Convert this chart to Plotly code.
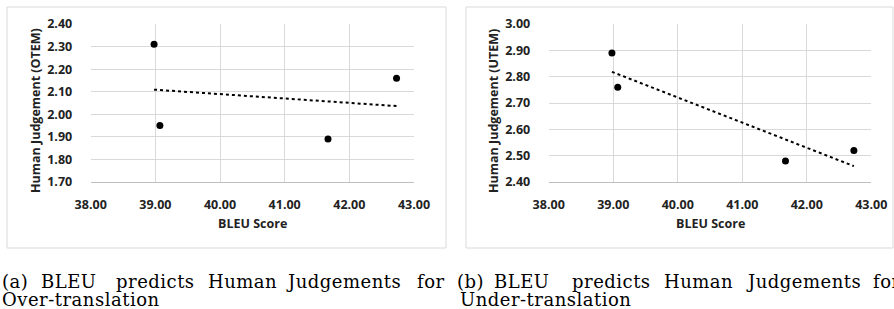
import numpy as np
import plotly.graph_objects as go

bleu = [38.98, 39.07, 41.67, 42.73]
otem = [2.31, 1.95, 1.89, 2.16]
utem = [2.89, 2.76, 2.48, 2.52]
x_ticks = [38, 39, 40, 41, 42, 43]
otem_ticks = [1.70, 1.80, 1.90, 2.00, 2.10, 2.20, 2.30, 2.40]
utem_ticks = [2.40, 2.50, 2.60, 2.70, 2.80, 2.90, 3.00]
x_title = "BLEU Score"
y_titles = ["Human Judgement (OTEM)", "Human Judgement (UTEM)"]
cap_a_words = ["(a)", "BLEU", "predicts", "Human", "Judgements", "for"]
cap_b_words = ["(b)", "BLEU", "predicts", "Human", "Judgements", "for"]
cap_a_line2 = "Over-translation"
cap_b_line2 = "Under-translation"

W, H = 894, 309
def px(x): return x / W
def py(y): return 1 - y / H

fig = go.Figure()
series = [otem, utem]
for i, ys in enumerate(series):
    xa = "x" if i == 0 else "x2"
    ya = "y" if i == 0 else "y2"
    fig.add_trace(go.Scatter(x=bleu, y=ys, mode="markers", xaxis=xa, yaxis=ya,
                             marker=dict(color="black", size=7), showlegend=False, hoverinfo="skip"))
    m, b = np.polyfit(bleu, ys, 1)
    xs = [min(bleu), max(bleu)]
    fig.add_trace(go.Scatter(x=xs, y=[m * v + b for v in xs], mode="lines", xaxis=xa, yaxis=ya,
                             line=dict(color="black", width=2, dash="dot"), showlegend=False,
                             hoverinfo="skip"))

tickfont = dict(family="Open Sans", size=12.5, color="#222", weight="bold")
grid = "#d9d9d9"
xcommon = dict(range=[38, 43], tickvals=x_ticks, tickformat=".2f", showgrid=True, gridcolor=grid,
               gridwidth=1, showline=True, linecolor="#bfbfbf", linewidth=1, zeroline=False,
               ticks="outside", ticklen=11, tickcolor="rgba(0,0,0,0)", tickfont=tickfont,
               automargin=False)
ycommon = dict(tickformat=".2f", showgrid=True, gridcolor=grid, gridwidth=1, showline=False,
               zeroline=False, ticks="outside", ticklen=15, tickcolor="rgba(0,0,0,0)", tickfont=tickfont,
               automargin=False)

fig.update_layout(
    template="none",
    width=W, height=H, margin=dict(l=0, r=0, t=0, b=0, pad=0, autoexpand=False),
    paper_bgcolor="white", plot_bgcolor="white",
    xaxis=dict(domain=[px(90.7), px(414)], anchor="y", **xcommon),
    yaxis=dict(domain=[py(182), py(24)], anchor="x", range=[1.70, 2.40], tickvals=otem_ticks, **ycommon),
    xaxis2=dict(domain=[px(548.7), px(871.3)], anchor="y2", **xcommon),
    yaxis2=dict(domain=[py(182), py(24)], anchor="x2", range=[2.40, 3.00], tickvals=utem_ticks, **ycommon),
)

shapes = []
for (x0, x1) in [(7, 446), (466, 893)]:
    shapes.append(dict(type="rect", xref="paper", yref="paper", x0=px(x0), x1=px(x1), y0=py(248), y1=py(7),
                       line=dict(color="#d9d9d9", width=1), fillcolor="rgba(0,0,0,0)", layer="below"))
fig.update_layout(shapes=shapes)

titlefont = dict(family="Open Sans", size=12.5, color="#222", weight="bold")
ann = []
for cx, ycx, yt in [(252.3, 35, y_titles[0]), (710, 493, y_titles[1])]:
    ann.append(dict(text=x_title, xref="paper", yref="paper", x=px(cx), y=py(223), showarrow=False,
                    xanchor="center", yanchor="middle", font=titlefont))
    ann.append(dict(text=yt, xref="paper", yref="paper", x=px(ycx), y=py(111), showarrow=False,
                    xanchor="center", yanchor="middle", textangle=-90, font=titlefont))

capfont = dict(family="DejaVu Serif", size=18, color="black")
def spaced(t):
    return '<span style="letter-spacing:0.5px">' + t + '</span>'
# (x position, anchor) for each caption word
place_a = [(0, "left"), (68.5, "center"), (155, "center"), (242.5, "center"), (343.5, "center"), (447, "right")]
place_b = [(455, "left"), (522, "center"), (611.5, "center"), (698, "center"), (803, "center"), (871, "left")]
for words, places in [(cap_a_words, place_a), (cap_b_words, place_b)]:
    for w, (xp, anc) in zip(words, places):
        ann.append(dict(text=spaced(w), xref="paper", yref="paper", x=px(xp), y=py(281.5), showarrow=False,
                        xanchor=anc, yanchor="middle", font=capfont))
for t, xp in [(cap_a_line2, 0), (cap_b_line2, 458)]:
    ann.append(dict(text=spaced(t), xref="paper", yref="paper", x=px(xp), y=py(299.5), showarrow=False,
                    xanchor="left", yanchor="middle", font=capfont))
fig.update_layout(annotations=ann)

fig.write_html("out.html", config={"displayModeBar": False, "staticPlot": True},
               post_script="document.body.style.margin='0';document.body.style.padding='0';"
                           "document.documentElement.style.overflow='hidden';")
